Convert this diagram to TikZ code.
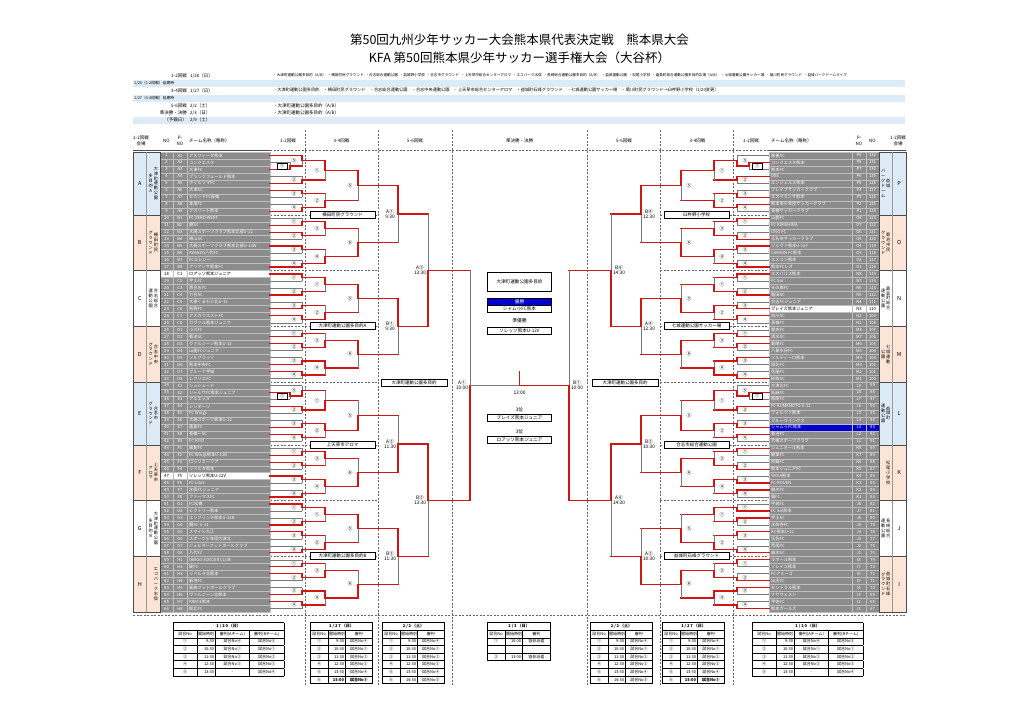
\documentclass[tikz,border=0pt]{standalone}
\usepackage{fontspec}
\usepackage{array}
\setmainfont{Noto Sans CJK JP}
\definecolor{wred}{RGB}{206,22,22}
\definecolor{lgrey}{RGB}{120,120,120}
\definecolor{cellg}{RGB}{140,140,140}
\definecolor{lblue}{RGB}{221,235,247}
\definecolor{lpeach}{RGB}{252,228,214}
\definecolor{champ}{RGB}{0,0,210}
\newcolumntype{C}[1]{>{\centering\arraybackslash}p{#1}}
\newcolumntype{R}[1]{>{\raggedleft\arraybackslash}p{#1}}
\newcommand\myfs[2]{\fontsize{#1}{#2}\selectfont}
\newcommand\XX[1]{(519.5+\sd*((#1)-519.5))}
\newcommand\RY[2]{\pgfmathsetmacro#1{152+((#2)+0.5)*6.97}}
\newcommand\setw[7]{\def\wA{#1}\def\wB{#2}\def\wC{#3}\def\wD{#4}\def\wE{#5}\def\wF{#6}\def\wG{#7}}
\def\vst#1{\vstB#1\relax\relax}
\def\vstB#1{\ifx#1\relax\else#1\expandafter\vstC\fi}
\def\vstC#1{\ifx#1\relax\else\\#1\expandafter\vstC\fi}
\tikzset{
  win/.style={draw=wred,line width=1.25pt,line cap=rect},
  lose/.style={draw=lgrey,line width=0.45pt},
  lbl/.style={font=\myfs{4.8}{5.4},align=center,inner sep=0pt},
  pbox/.style={draw=black,fill=white,line width=0.4pt,minimum width=10pt,minimum height=6pt,inner sep=0pt,font=\myfs{4.5}{5}},
  vbox/.style={draw=black,fill=white,line width=0.7pt,minimum width=65pt,minimum height=7pt,inner sep=0pt,font=\myfs{4.5}{5}},
  cbox/.style={draw=black,fill=white,line width=0.7pt,minimum width=64pt,minimum height=7pt,inner sep=0pt,font=\myfs{4.6}{5}},
  cellbox/.style={draw=black!25,line width=0.3pt},
  celltxt/.style={font=\myfs{4.2}{5},inner sep=0pt},
  hdr/.style={font=\myfs{4.5}{5.4},align=center,inner sep=0pt},
  vtext/.style={font=\myfs{4.2}{4.9},align=center,inner sep=0pt},
  colsep/.style={draw=black!60,line width=0.4pt,dash pattern=on 2pt off 1.5pt},
  hs/.style={font=\myfs{4.5}{5},inner sep=0pt},
}
% #1 xprevTop #2 xprevBot #3 xv #4 yTop #5 yBot #6 winner #7 mode(0 matches,1 teams,2 team/match) #8 label
\newcommand\Match[8]{%
  \pgfmathsetmacro\ym{((#4)+(#5))/2}%
  \tikzset{hsa/.style={win},hsb/.style={win}}%
  \ifnum#7>0 \tikzset{hsa/.style={lose}}\fi
  \ifnum#7=1 \tikzset{hsb/.style={lose}}\fi
  \ifnum#6=1
    \draw[hsb] ({\XX{#2}},#5) -- ({\XX{#3}},#5);
    \draw[lose] ({\XX{#3}},#5) -- ({\XX{#3}},\ym);
    \draw[win] ({\XX{#1}},#4) -- ({\XX{#3}},#4) -- ({\XX{#3}},\ym);
  \else
    \draw[hsa] ({\XX{#1}},#4) -- ({\XX{#3}},#4);
    \draw[lose] ({\XX{#3}},#4) -- ({\XX{#3}},\ym);
    \draw[win] ({\XX{#2}},#5) -- ({\XX{#3}},#5) -- ({\XX{#3}},\ym);
  \fi
  \node[lbl] at ({\XX{#3-8}},\ym) {#8};%
  \global\let\outy\ym
}
\newcommand\GroupEight[3]{%
  \setw#2%
  \RY\bYa{#1}\RY\bYb{#1+1}\Match{270}{270}{302}{\bYa}{\bYb}{\wA}{1}{①}\let\bRa\outy
  \RY\bYa{#1+2}\RY\bYb{#1+3}\Match{270}{270}{302}{\bYa}{\bYb}{\wB}{1}{②}\let\bRb\outy
  \RY\bYa{#1+4}\RY\bYb{#1+5}\Match{270}{270}{302}{\bYa}{\bYb}{\wC}{1}{③}\let\bRc\outy
  \RY\bYa{#1+6}\RY\bYb{#1+7}\Match{270}{270}{302}{\bYa}{\bYb}{\wD}{1}{④}\let\bRd\outy
  \ifnum#3=0 \def\lbA{①}\def\lbB{②}\def\lbC{⑤}\else\def\lbA{③}\def\lbB{④}\def\lbC{⑥}\fi
  \Match{302}{302}{325}{\bRa}{\bRb}{\wE}{0}{\lbA}\let\bQa\outy
  \Match{302}{302}{325}{\bRc}{\bRd}{\wF}{0}{\lbB}\let\bQb\outy
  \Match{325}{325}{358}{\bQa}{\bQb}{\wG}{0}{\lbC}%
}
\newcommand\GroupNine[4]{%
  \RY\bYa{#1+1}\RY\bYb{#1+2}%
  \Match{270}{270}{290}{\bYa}{\bYb}{#2}{1}{}\let\bRp\outy
  \setw#3%
  \RY\bYa{#1}%
  \Match{270}{290}{302}{\bYa}{\bRp}{\wA}{2}{⑤}\let\bRa\outy
  \node[pbox] at ({\XX{282}},\bRp) {①};
  \RY\bYa{#1+3}\RY\bYb{#1+4}\Match{270}{270}{302}{\bYa}{\bYb}{\wB}{1}{②}\let\bRb\outy
  \RY\bYa{#1+5}\RY\bYb{#1+6}\Match{270}{270}{302}{\bYa}{\bYb}{\wC}{1}{③}\let\bRc\outy
  \RY\bYa{#1+7}\RY\bYb{#1+8}\Match{270}{270}{302}{\bYa}{\bYb}{\wD}{1}{④}\let\bRd\outy
  \ifnum#4=0 \def\lbA{①}\def\lbB{②}\def\lbC{⑤}\else\def\lbA{③}\def\lbB{④}\def\lbC{⑥}\fi
  \Match{302}{302}{325}{\bRa}{\bRb}{\wE}{0}{\lbA}\let\bQa\outy
  \Match{302}{302}{325}{\bRc}{\bRd}{\wF}{0}{\lbB}\let\bQb\outy
  \Match{325}{325}{358}{\bQa}{\bQb}{\wG}{0}{\lbC}%
}
\newcommand\Rows[1]{%
  \foreach \pn/\nm [count=\i from 0] in #1 {%
    \pgfmathsetmacro\yt{152+\i*6.97}%
    \pgfmathsetmacro\yb{152+(\i+1)*6.97}%
    \pgfmathsetmacro\yc{152+(\i+0.5)*6.97}%
    \pgfmathtruncatemacro\rowno{\nobase+\nodir*\i}%
    \def\rowfill{cellg}\def\rowtext{white}%
    \ifnum\i=\spa\relax\def\rowfill{white}\def\rowtext{black}\fi
    \ifnum\i=\spb\relax\def\rowfill{\spbcol}\def\rowtext{\spbtxt}\fi
    \filldraw[cellbox,fill=\rowfill] ({\XX{160}},\yt) rectangle ({\XX{173}},\yb);
    \filldraw[cellbox,fill=\rowfill] ({\XX{173}},\yt) rectangle ({\XX{187}},\yb);
    \filldraw[cellbox,fill=\rowfill] ({\XX{187}},\yt) rectangle ({\XX{270}},\yb);
    \node[celltxt,text=\rowtext] at ({\XX{166.5}},\yc) {\rowno};
    \node[celltxt,text=\rowtext] at ({\XX{180}},\yc) {\pn};
    \node[celltxt,text=\rowtext,anchor=west] at (\tx,\yc) {\nm};
  }%
}
\newcommand\GroupCol[6]{%
  \pgfmathsetmacro\gTop{152+#1*6.97}\pgfmathsetmacro\gBot{152+(#1+#2)*6.97}\pgfmathsetmacro\gMid{(\gTop+\gBot)/2}%
  \filldraw[fill=#6,draw=black!70,line width=0.4pt] ({\XX{133}},\gTop) rectangle ({\XX{160}},\gBot);
  \draw[black!40,line width=0.3pt] ({\XX{146.5}},\gTop) -- ({\XX{146.5}},\gBot);
  \node[font=\myfs{5.5}{6},inner sep=0pt] at ({\XX{139.8}},\gMid) {#3};
  \node[vtext] at ({\XX{153.3}+2.6},\gMid) {\vst{#4}};
  \node[vtext] at ({\XX{153.3}-2.6},\gMid) {\vst{#5}};
}
\def\LeftTeams{A1/アスフィーダ熊本,A2/コンクエスタ,A3/大津FC,A4/ブランクフェールド熊本,A5/ボイルソマFC,A6/大津SC,A7/セカンドFC長嶺,A8/本渡FC,A9/アスリート熊本,B1/FC ZERO WEST,B2/楠SC,B3/大嶋スポーツクラブ熊本北部U-12,B4/帯山SC,B5/大嶋スポーツクラブ熊本北部U-12W,B6/AVANZO八代FC,B7/FCエレジー,B8/アリアンサ熊本FC,C1/ロアッソ熊本ジュニア,C2/宇土FC,C3/西合志FC,C4/力合SC,C5/大津くまもと北U-12,C6/熊野FC,C7/アスカウエストFC,C8/カヴァル熊本ジュニア,D1/小川FC,D2/菊池SC,D3/ヴァルジーン熊本U-12,D4/山鹿FCジュニア,D5/ソルブラッソ,D6/熊本中央FC,D7/ブルーナ宇城,D8/レクリエFC,E1/シュシェード,E2/ジャルサFC熊本ジュニア,E3/アルエッタ,E4/シンボーゾ,E5/FC Wings,E6/大嶋スポーツ熊本U-12,E7/嘉島FC,E8/長嶺一SC,E9/FC KIYO,F1/黒髪FC,F2/FC Wings熊本U-12B,F3/ロッソミーリア,F4/リベルタ熊本,F5/ソレッソ熊本U-12V,F6/FC Libre,F7/水俣FCジュニア,F8/ファーマスFC,G1/FC松橋,G2/ビクトリー熊本,G3/エンフリンチ熊本U-12B,G4/鏡SC U-11,G5/スマイル大江,G6/スポーツ少年団大津北,G7/ジュピターフットボールクラブ,G8/八代FC,H1/OBIGO SOCCER CLUB,H2/碇FC,H3/リベルタ北熊本,H4/新地FC,H5/高森フットボールクラブ,H6/ヴァルジーン北熊本,H7/PARCE熊本,H8/熊北FC}
\def\RightTeams{P9/楽善SC,P8/コンクエスタ熊本,P7/熊本FC,P6/DBC,P5/エンジェルス熊本,P4/ブレイブサッカークラブ,P3/エスペランサ熊本,P2/熊本市少年団サッカークラブ,P1/長嶺サッカークラブ,O8/山鹿FC,O7/FC KIRISHIMA,O6/UNO FC,O5/玉名市サッカークラブ,O4/ゾルヴァ熊本U-12F,O3/CAMION FC熊本,O2/エスコン熊本,O1/熊本FCレオ,N8/エスパルス熊本,N7/FC Sol,N6/光の森FC,N5/龍田SC,N4/合志FCジュニア,N3/ブレイズ熊本ジュニア,N2/白川SC,N1/長嶺FC,M8/鹿央FC,M7/清水SC,M6/菊陽FC,M5/八景水谷FC,M4/ソルティーロ熊本,M3/城北FC,M2/花陵FC,M1/砂取SC,L9/大津北FC,L8/託麻FC,L7/西原FC,L6/FC KUMAMOTO U-12,L5/フォルツァ熊本,L4/ブルーウイングス,L3/シャムゥFC熊本,L2/菊池FC,L1/大嶋スポーツクラブ,K8/ジュニオール熊本,K7/健軍FC,K6/阿蘇FC,K5/熊本ジュニアFC,K4/YMCA熊本,K3/FC ROUEN,K2/植木FC,K1/鏡FC,J8/宇城FC,J7/FC Sol熊本,J6/宇土SC,J5/水前寺FC,J4/KC熊本U-12,J3/玉名FC,J2/荒尾FC,J1/植木SC,I8/ラポール熊本,I7/ソレイユ熊本,I6/FCアミーゴ,I5/出水FC,I4/セントラル熊本,I3/ナサウェスト,I2/甲佐FC,I1/熊本ガールズ}
\begin{document}
\begin{tikzpicture}[x=1pt,y=-1pt]
\fill[white] (0,0) rectangle (1024,725);
\useasboundingbox (0,0) rectangle (1024,725);
% ---------- title
\node[font=\myfs{12.5}{14}] (title1) at (519.5,40) {第50回九州少年サッカー大会熊本県代表決定戦　熊本県大会};
\node[font=\myfs{12.5}{14}] (title2) at (519.5,58) {KFA 第50回熊本県少年サッカー選手権大会（大谷杯）};
% ---------- schedule
\fill[lblue] (133,79.5) rectangle (905,86.5);
\fill[lblue] (133,95) rectangle (905,102);
\fill[lblue] (133,116.5) rectangle (905,123.5);
\node[hs,anchor=east] (s1) at (187,75.5) {1-2回戦};
\node[hs,anchor=west] (d1) at (190,75.5) {1/20（日）};
\node[hs,anchor=west,font=\myfs{3.6}{4}] (v1) at (273,75.5) {・大津町運動公園多目的（A/B）\enspace・横田町民グラウンド\enspace・合志総合運動公園\enspace・益城野小学校\enspace・合志市グラウンド\enspace・上天草市総合センターアロマ\enspace・エコパーク水俣\enspace・長崎総合運動公園多目的（A/B）\enspace・益城運動公園\enspace・松尾小学校\enspace・嘉島町総合運動公園多目的広場（A/B）\enspace・七城運動公園サッカー場\enspace・菊川町民グラウンド\enspace・益城パークドームライブ};
\node[hs,anchor=west,font=\myfs{3.8}{4}] (p1) at (134,83) {1/20（1-2回戦）延期時};
\node[hs,anchor=east] (s2) at (187,90.5) {3-4回戦};
\node[hs,anchor=west] (d2) at (190,90.5) {1/27（日）};
\node[hs,anchor=west,font=\myfs{4.2}{5}] (v2) at (273,90.5) {・大津町運動公園多目的\quad・横田町民グラウンド\quad・合志総合運動公園\quad・合志中央運動公園\quad・上天草市総合センターアロマ\quad・益城町石峰グラウンド\quad・七城運動公園サッカー場\quad・菊川町民グラウンド→臼杵野小学校（1/20変更）};
\node[hs,anchor=west,font=\myfs{3.8}{4}] (p2) at (134,98.5) {1/27（3-4回戦）延期時};
\node[hs,anchor=east] (s3) at (187,105.5) {5-6回戦};
\node[hs,anchor=west] (d3) at (190,105.5) {2/2（土）};
\node[hs,anchor=west] (v3) at (273,105.5) {・大津町運動公園多目的（A/B）};
\node[hs,anchor=east] (s4) at (187,113) {準決勝・決勝};
\node[hs,anchor=west] (d4) at (190,113) {2/3（日）};
\node[hs,anchor=west] (v4) at (273,113) {・大津町運動公園多目的（A/B）};
\node[hs,anchor=east] (s5) at (187,120) {（予備日）};
\node[hs,anchor=west] (d5) at (190,120) {2/9（土）};
% ---------- column headers
\node[hdr] (hl1) at (141,141) {1-2回戦\\会場};
\node[hdr] (hl2) at (166.5,141) {NO};
\node[hdr] (hl3) at (180,141) {P-\\NO};
\node[hdr,anchor=west] (hl4) at (189,141) {チーム名称（略称）};
\node[hdr] (hl5) at (288,141) {1-2回戦};
\node[hdr] (hl6) at (341.5,141) {3-4回戦};
\node[hdr] (hl7) at (415,141) {5-6回戦};
\node[hdr] (hc) at (519.5,141) {準決勝・決勝};
\node[hdr] (hr7) at (624,141) {5-6回戦};
\node[hdr] (hr6) at (697.5,141) {3-4回戦};
\node[hdr] (hr5) at (751,141) {1-2回戦};
\node[hdr,anchor=west] (hr4) at (771,141) {チーム名称（略称）};
\node[hdr] (hr3) at (859,141) {P-\\NO};
\node[hdr] (hr2) at (872.5,141) {NO};
\node[hdr] (hr1) at (898,141) {1-2回戦\\会場};
\draw[black!70,line width=0.5pt] (133,150) -- (270,150);
\draw[black!70,line width=0.5pt] (769,150) -- (906,150);
\draw[colsep] (270,150) -- (769,150);
\foreach \xx in {305,378,452,587,660,733} \draw[colsep] (\xx,130) -- (\xx,686);
\foreach \r in {9,17,25,33,42,50,58} {
  \draw[colsep] (270,{152+\r*6.97}) -- (378,{152+\r*6.97});
  \draw[colsep] (660,{152+\r*6.97}) -- (769,{152+\r*6.97});
}
\draw[colsep] (133,615) -- (906,615);
% ---------- left side
\def\sd{(1)}\def\tx{189}\def\nobase{1}\def\nodir{1}
\def\spa{17}\def\spb{46}\def\spbcol{white}\def\spbtxt{black}
\Rows{\LeftTeams}
\GroupCol{0}{9}{A}{大津町運動公園}{多目的A}{lblue}
\GroupCol{9}{8}{B}{横田町民}{グラウンド}{lpeach}
\GroupCol{17}{8}{C}{合志総合}{運動公園}{white}
\GroupCol{25}{8}{D}{合志中央}{グラウンド}{lpeach}
\GroupCol{33}{9}{E}{合志市}{グラウンド}{lblue}
\GroupCol{42}{8}{F}{上天草市}{アロマ}{lpeach}
\GroupCol{50}{8}{G}{大津町運動公園}{多目的B}{white}
\GroupCol{58}{8}{H}{エコパーク水俣}{}{lpeach}
\GroupNine{0}{2}{1212121}{0}\let\gA\outy
\GroupEight{9}{2112122}{1}\let\gB\outy
\GroupEight{17}{1221121}{0}\let\gC\outy
\GroupEight{25}{2121211}{1}\let\gD\outy
\GroupNine{33}{1}{2121212}{0}\let\gE\outy
\GroupEight{42}{2112112}{1}\let\gF\outy
\GroupEight{50}{1212121}{0}\let\gG\outy
\GroupEight{58}{2121212}{1}\let\gH\outy
\Match{358}{358}{398}{\gA}{\gB}{1}{0}{A①\\9:30}\let\hAB\outy
\Match{358}{358}{398}{\gC}{\gD}{1}{0}{B①\\9:30}\let\hCD\outy
\Match{358}{358}{398}{\gE}{\gF}{2}{0}{A③\\11:30}\let\hEF\outy
\Match{358}{358}{398}{\gG}{\gH}{1}{0}{B③\\11:30}\let\hGH\outy
\Match{398}{398}{428}{\hAB}{\hCD}{2}{0}{A⑤\\13:30}\let\iU\outy
\Match{398}{398}{428}{\hEF}{\hGH}{1}{0}{B⑤\\13:30}\let\iL\outy
\Match{428}{428}{470}{\iU}{\iL}{2}{0}{A①\\10:00}\let\semL\outy
\node[vbox] (vl1) at (342.5,{152+9*6.97}) {横田町民グラウンド};
\node[vbox] (vl2) at (342.5,{152+25*6.97}) {大津町運動公園多目的A};
\node[vbox] (vl3) at (342.5,{152+42*6.97}) {上天草市アロマ};
\node[vbox] (vl4) at (342.5,{152+58*6.97}) {大津町運動公園多目的B};
\node[vbox,minimum width=66pt] (vl5) at (414,383) {大津町運動公園多目的};
% ---------- right side
\def\sd{(-1)}\def\tx{771}\def\nobase{132}\def\nodir{-1}
\def\spa{22}\def\spb{39}\def\spbcol{champ}\def\spbtxt{white}
\Rows{\RightTeams}
\GroupCol{0}{9}{P}{益城}{パークドーム}{lblue}
\GroupCol{9}{8}{O}{菊池市民}{グラウンド}{lpeach}
\GroupCol{17}{8}{N}{嘉島町総合}{運動公園}{white}
\GroupCol{25}{8}{M}{七城運動}{公園}{lpeach}
\GroupCol{33}{9}{L}{益城町}{運動公園}{lblue}
\GroupCol{42}{8}{K}{松尾小学校}{}{lpeach}
\GroupCol{50}{8}{J}{長崎総合}{運動公園}{white}
\GroupCol{58}{8}{I}{益城町石峰}{グラウンド}{lpeach}
\GroupNine{0}{1}{2121121}{0}\let\gA\outy
\GroupEight{9}{1212212}{1}\let\gB\outy
\GroupEight{17}{1221212}{0}\let\gC\outy
\GroupEight{25}{2112121}{1}\let\gD\outy
\GroupNine{33}{1}{2121112}{0}\let\gE\outy
\GroupEight{42}{1221211}{1}\let\gF\outy
\GroupEight{50}{2112122}{0}\let\gG\outy
\GroupEight{58}{1212211}{1}\let\gH\outy
\Match{358}{358}{398}{\gA}{\gB}{1}{0}{B④\\12:30}\let\hAB\outy
\Match{358}{358}{398}{\gC}{\gD}{1}{0}{A④\\12:30}\let\hCD\outy
\Match{358}{358}{398}{\gE}{\gF}{1}{0}{B②\\10:30}\let\hEF\outy
\Match{358}{358}{398}{\gG}{\gH}{2}{0}{A②\\10:30}\let\hGH\outy
\Match{398}{398}{428}{\hAB}{\hCD}{2}{0}{B⑥\\14:30}\let\iU\outy
\Match{398}{398}{428}{\hEF}{\hGH}{1}{0}{A⑥\\14:30}\let\iL\outy
\Match{428}{428}{470}{\iU}{\iL}{2}{0}{B①\\10:00}\let\semR\outy
\node[vbox] (vr1) at (696.5,{152+9*6.97}) {臼杵野小学校};
\node[vbox] (vr2) at (696.5,{152+25*6.97}) {七城運動公園サッカー場};
\node[vbox] (vr3) at (696.5,{152+42*6.97}) {合志市総合運動公園};
\node[vbox] (vr4) at (696.5,{152+58*6.97}) {益城町石峰グラウンド};
\node[vbox,minimum width=66pt] (vr5) at (625,383) {大津町運動公園多目的};
% ---------- final
\coordinate (fl) at (470,\semL);
\coordinate (fr) at (569,\semR);
\coordinate (fc) at (519.5,\semR);
\coordinate (ft) at (519.5,{\semR-14});
\draw[lose] (fl) -- (fc);
\draw[win] (fr) -- (fc) -- (ft);
\node[lbl] (ftime) at (519.5,{\semR+8}) {13:00};
% ---------- centre results
\node[draw=black,fill=white,line width=0.7pt,minimum width=64pt,minimum height=19pt,font=\myfs{4.6}{5},inner sep=0pt] (venue) at (519.5,282) {大津町運動公園多目的};
\node[draw=black,fill=champ,line width=0.5pt,minimum width=64pt,minimum height=7pt,inner sep=0pt,font=\myfs{4.6}{5},text=white] (wlab) at (519.5,301.5) {優勝};
\node[cbox,anchor=north] (wname) at (wlab.south) {シャムゥFC熊本};
\node[lbl] (rlab) at (519.5,321) {準優勝};
\node[cbox] (rname) at (519.5,330.5) {ソレッソ熊本U-12V};
\node[lbl] (t1lab) at (519.5,410) {3位};
\node[cbox] (t1name) at (519.5,418) {ブレイズ熊本ジュニア};
\node[lbl] (t2lab) at (519.5,432) {3位};
\node[cbox] (t2name) at (519.5,440) {ロアッソ熊本ジュニア};
% ---------- bottom tables
\node[anchor=north west,inner sep=0pt,font=\myfs{4}{5}] (tA) at (173,622) {\setlength\tabcolsep{1pt}\renewcommand\arraystretch{1.45}%
\begin{tabular}{|C{21pt}|R{16pt}|C{32pt}|C{32pt}|}\hline
\multicolumn{4}{|c|}{\bfseries 1 / 2 0 （日）}\\\hline
試合No & 開始時刻 & 審判(Aチーム) & 審判(Bチーム)\\\hline
① & 9:30 & 試合No④ & 試合No⑤\\\hline
② & 10:30 & 試合No① & 試合No①\\\hline
③ & 11:30 & 試合No② & 試合No②\\\hline
④ & 12:30 & 試合No③ & 試合No③\\\hline
⑤ & 13:30 & - & 試合No④\\\hline
\end{tabular}};
\node[anchor=north west,inner sep=0pt,font=\myfs{4}{5}] (tB) at (310,622) {\setlength\tabcolsep{1pt}\renewcommand\arraystretch{1.45}%
\begin{tabular}{|C{15pt}|R{15pt}|C{25pt}|}\hline
\multicolumn{3}{|c|}{\bfseries 1 / 2 7 （日）}\\\hline
試合No & 開始時刻 & 審判\\\hline
① & 9:30 & 試合No④\\\hline
② & 10:30 & 試合No①\\\hline
③ & 11:30 & 試合No②\\\hline
④ & 12:30 & 試合No③\\\hline
⑤ & 13:30 & 試合No④\\\hline
⑥ & \bfseries 15:00 & \bfseries 試合No⑤\\\hline
\end{tabular}};
\node[anchor=north west,inner sep=0pt,font=\myfs{4}{5}] (tC) at (382,622) {\setlength\tabcolsep{1pt}\renewcommand\arraystretch{1.45}%
\begin{tabular}{|C{15pt}|R{15pt}|C{25pt}|}\hline
\multicolumn{3}{|c|}{\bfseries 2 / 2 （土）}\\\hline
試合No & 開始時刻 & 審判\\\hline
① & 9:30 & 試合No④\\\hline
② & 10:30 & 試合No①\\\hline
③ & 11:30 & 試合No②\\\hline
④ & 12:30 & 試合No③\\\hline
⑤ & 13:30 & 試合No④\\\hline
⑥ & 14:30 & 試合No⑤\\\hline
\end{tabular}};
\node[anchor=north west,inner sep=0pt,font=\myfs{4}{5}] (tD) at (487,622) {\setlength\tabcolsep{1pt}\renewcommand\arraystretch{1.45}%
\begin{tabular}{|C{15pt}|R{15pt}|C{26pt}|}\hline
\multicolumn{3}{|c|}{\bfseries 2 / 3 （日）}\\\hline
試合No & 開始時刻 & 審判\\\hline
① & 10:00 & 協会派遣\\\hline
 & & \\\hline
② & 13:00 & 協会派遣\\\hline
\end{tabular}};
\node[anchor=north west,inner sep=0pt,font=\myfs{4}{5}] (tE) at (590,622) {\setlength\tabcolsep{1pt}\renewcommand\arraystretch{1.45}%
\begin{tabular}{|C{15pt}|R{15pt}|C{25pt}|}\hline
\multicolumn{3}{|c|}{\bfseries 2 / 2 （土）}\\\hline
試合No & 開始時刻 & 審判\\\hline
① & 9:30 & 試合No④\\\hline
② & 10:30 & 試合No①\\\hline
③ & 11:30 & 試合No②\\\hline
④ & 12:30 & 試合No③\\\hline
⑤ & 13:30 & 試合No④\\\hline
⑥ & 14:30 & 試合No⑤\\\hline
\end{tabular}};
\node[anchor=north west,inner sep=0pt,font=\myfs{4}{5}] (tF) at (662,622) {\setlength\tabcolsep{1pt}\renewcommand\arraystretch{1.45}%
\begin{tabular}{|C{15pt}|R{15pt}|C{25pt}|}\hline
\multicolumn{3}{|c|}{\bfseries 1 / 2 7 （日）}\\\hline
試合No & 開始時刻 & 審判\\\hline
① & 9:30 & 試合No④\\\hline
② & 10:30 & 試合No①\\\hline
③ & 11:30 & 試合No②\\\hline
④ & 12:30 & 試合No③\\\hline
⑤ & 13:30 & 試合No④\\\hline
⑥ & \bfseries 15:00 & \bfseries 試合No⑤\\\hline
\end{tabular}};
\node[anchor=north west,inner sep=0pt,font=\myfs{4}{5}] (tG) at (752,622) {\setlength\tabcolsep{1pt}\renewcommand\arraystretch{1.45}%
\begin{tabular}{|C{21pt}|R{16pt}|C{32pt}|C{32pt}|}\hline
\multicolumn{4}{|c|}{\bfseries 1 / 2 0 （日）}\\\hline
試合No & 開始時刻 & 審判(Aチーム) & 審判(Bチーム)\\\hline
① & 9:30 & 試合No④ & 試合No⑤\\\hline
② & 10:30 & 試合No① & 試合No①\\\hline
③ & 11:30 & 試合No② & 試合No②\\\hline
④ & 12:30 & 試合No③ & 試合No③\\\hline
⑤ & 13:30 & - & 試合No④\\\hline
\end{tabular}};
\end{tikzpicture}
\end{document}
